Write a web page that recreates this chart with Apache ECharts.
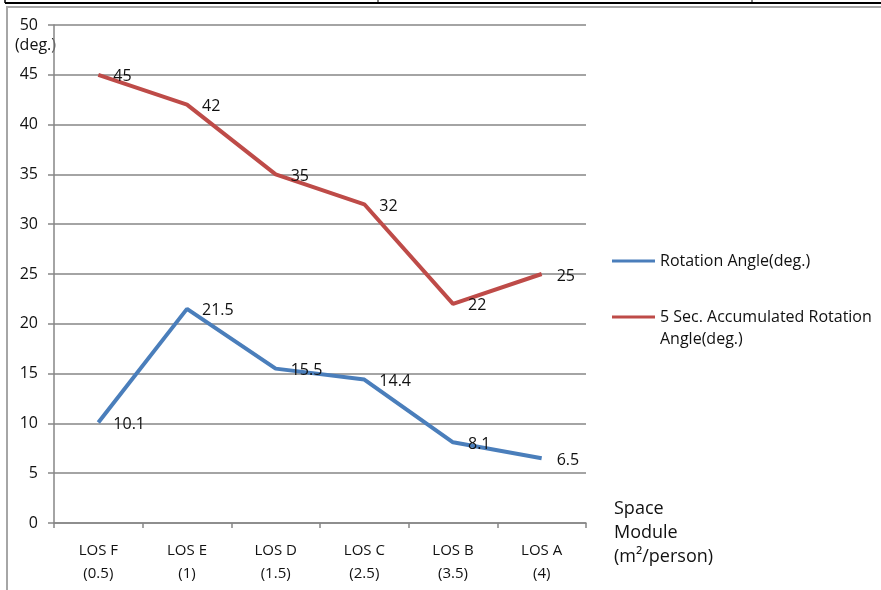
<!DOCTYPE html>
<html>
<head>
<meta charset="utf-8">
<script src="https://cdn.jsdelivr.net/npm/echarts@6/dist/echarts.min.js"></script>
<style>html,body{margin:0;padding:0;background:#fff;}#c{width:881px;height:590px;}</style>
</head>
<body>
<div id="c"></div>
<script>
var categories = ['LOS F\n(0.5)', 'LOS E\n(1)', 'LOS D\n(1.5)', 'LOS C\n(2.5)', 'LOS B\n(3.5)', 'LOS A\n(4)'];
var rotationAngle = [10.1, 21.5, 15.5, 14.4, 8.1, 6.5];
var accumulatedAngle = [45, 42, 35, 32, 22, 25];
var seriesNames = ['Rotation Angle(deg.)', '5 Sec. Accumulated Rotation Angle(deg.)'];
var yTicks = { min: 0, max: 50, interval: 5 };

var FONT = 'Open Sans';
var chart = echarts.init(document.getElementById('c'));
var labelStyle = {
  show: true, position: 'right', distance: 15, offset: [0, 2],
  color: '#111', fontSize: 16, fontFamily: FONT
};
chart.setOption({
  animation: false,
  backgroundColor: '#fff',
  textStyle: { fontFamily: FONT },
  graphic: [
    { type: 'line', shape: { x1: 5, y1: 3, x2: 881, y2: 3 }, style: { stroke: '#000', lineWidth: 2 } },
    { type: 'line', shape: { x1: 5, y1: 0, x2: 5, y2: 3 }, style: { stroke: '#000', lineWidth: 1.5 } },
    { type: 'line', shape: { x1: 378, y1: 0, x2: 378, y2: 3 }, style: { stroke: '#000', lineWidth: 1 } },
    { type: 'line', shape: { x1: 752, y1: 0, x2: 752, y2: 3 }, style: { stroke: '#000', lineWidth: 1 } },
    { type: 'rect', shape: { x: 7, y: 7, width: 900, height: 600 }, style: { fill: 'none', stroke: '#a6a6a6', lineWidth: 2 } }
  ],
  grid: { left: 54, right: 295, top: 25, bottom: 67 },
  legend: [
    {
      data: [seriesNames[0]], orient: 'vertical', left: 607, top: 245,
      icon: 'rect', itemWidth: 43, itemHeight: 3, itemGap: 0,
      textStyle: { fontSize: 16, lineHeight: 22, color: '#111', fontFamily: FONT }
    },
    {
      data: [seriesNames[1]], orient: 'vertical', left: 607, top: 279,
      icon: 'rect', itemWidth: 43, itemHeight: 3, itemGap: 0,
      formatter: function () { return '\n5 Sec. Accumulated Rotation\nAngle(deg.)'; },
      textStyle: { fontSize: 16, lineHeight: 22, color: '#111', fontFamily: FONT }
    }
  ],
  xAxis: {
    type: 'category', data: categories, boundaryGap: true,
    name: '{s|}\nSpace\nModule\n(m²/person)', nameLocation: 'end', nameGap: 28,
    nameTextStyle: {
      fontSize: 18, lineHeight: 24, color: '#111', align: 'left', verticalAlign: 'middle', fontFamily: FONT,
      rich: { s: { lineHeight: 20, height: 20, fontSize: 17 } }
    },
    axisLine: { lineStyle: { color: '#868686', width: 1.5 } },
    axisTick: { show: true, length: 5, lineStyle: { color: '#868686', width: 1.5 } },
    axisLabel: { fontSize: 15, lineHeight: 23, color: '#111', margin: 16, fontFamily: FONT, interval: 0 }
  },
  yAxis: {
    type: 'value', min: yTicks.min, max: yTicks.max, interval: yTicks.interval,
    name: '(deg.)', nameLocation: 'end', nameGap: -20,
    nameTextStyle: { fontSize: 16, color: '#111', align: 'right', verticalAlign: 'middle', padding: [0, -2, 0, 0], fontFamily: FONT },
    axisLine: { show: true, lineStyle: { color: '#868686', width: 1.5 } },
    axisTick: { show: true, length: 6, lineStyle: { color: '#868686', width: 1.5 } },
    axisLabel: { fontSize: 16, color: '#111', margin: 16, fontFamily: FONT },
    splitLine: { show: true, lineStyle: { color: '#868686', width: 1.5 } }
  },
  series: [
    {
      name: seriesNames[0], type: 'line', data: rotationAngle,
      symbol: 'circle', symbolSize: 0, showSymbol: true,
      lineStyle: { color: '#4A7EBB', width: 4 }, itemStyle: { color: '#4A7EBB' },
      label: labelStyle
    },
    {
      name: seriesNames[1], type: 'line', data: accumulatedAngle,
      symbol: 'circle', symbolSize: 0, showSymbol: true,
      lineStyle: { color: '#BE4B48', width: 4 }, itemStyle: { color: '#BE4B48' },
      label: labelStyle
    }
  ]
});
</script>
</body>
</html>
